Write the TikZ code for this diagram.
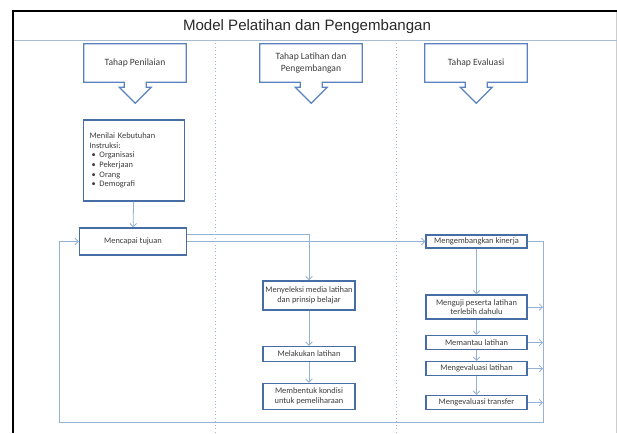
\documentclass[tikz,border=0pt]{standalone}
\usepackage{fontspec}
\setmainfont{Carlito}
\newfontfamily\titlefont{Liberation Sans}
\usetikzlibrary{arrows.meta}
\definecolor{boxblue}{RGB}{70,110,165}
\definecolor{callblue}{RGB}{90,130,190}
\definecolor{linkblue}{RGB}{150,178,210}
\definecolor{dotblue}{RGB}{160,185,210}
\definecolor{txtgray}{RGB}{60,60,60}

\begin{document}
\begin{tikzpicture}[x=0.75pt,y=0.75pt,yscale=-1,xscale=1,
    box/.style={draw=boxblue, line width=1pt, text=txtgray, inner sep=0.5pt, align=center, font=\fontsize{6.3}{7.2}\selectfont},
    tahap/.style={text=txtgray, minimum width=76.5pt, minimum height=28.5pt, inner sep=1pt, align=center, font=\fontsize{7.2}{8.4}\selectfont},
    callout/.style={draw=callblue, line width=0.9pt, line join=miter},
    conn/.style={draw=linkblue, line width=0.6pt, -{Straight Barb[length=2.5pt,width=5pt]}},
    colline/.style={dotblue, line width=0.6pt, dotted}]
        \useasboundingbox (0,0) rectangle (617,433);

        %Frame and title bar
        \draw [color={rgb, 255:red, 205; green, 205; blue, 205 }, line width=0.6pt] (616,11) -- (616,433) ;
        \draw [color={rgb, 255:red, 170; green, 188; blue, 208 }, line width=0.6pt] (13,40) -- (617,40) ;
        \draw [line width=1.1pt] (13,433) -- (13,11) -- (617,11) ;
        %Dotted column lines
        \draw [colline] (215,40) -- (215,433) ;
        \draw [colline] (396,40) -- (396,433) ;

        % Text Node
        \node [font=\titlefont\fontsize{11.3}{13}\selectfont, text={rgb, 255:red, 40; green, 40; blue, 40 }] (judul) at (307,27) {Model Pelatihan dan Pengembangan};

        %Callouts
        \node [tahap] (pen) at (135,63) {Tahap Penilaian};
        \node [tahap] (lat) at (311,63) {Tahap Latihan dan\\Pengembangan};
        \node [tahap] (eva) at (476,63) {Tahap Evaluasi};
        \foreach \n in {pen,lat,eva}
            \draw [callout] (\n.south west) -- (\n.north west) -- (\n.north east) -- (\n.south east) -- ++(-40,0) -- ++(0,5) -- ++(5,0) -- ++(-16,16) -- ++(-16,-16) -- ++(5,0) -- ++(0,-5) -- cycle ;

        %Column 1
        \node [box, align=left, text width=66.75pt, inner xsep=4.5pt, minimum height=60.75pt] (kebutuhan) at (134,160.5) {Menilai Kebutuhan\\Instruksi:\\
            \hspace*{1.5pt}\makebox[6pt][l]{\textbullet}Organisasi\\
            \hspace*{1.5pt}\makebox[6pt][l]{\textbullet}Pekerjaan\\
            \hspace*{1.5pt}\makebox[6pt][l]{\textbullet}Orang\\
            \hspace*{1.5pt}\makebox[6pt][l]{\textbullet}Demografi};
        \node [box, minimum width=80.25pt, minimum height=20.25pt] (tujuan) at (133,241.5) {Mencapai tujuan};

        %Column 2
        \node [box, minimum width=69pt, minimum height=21.75pt] (seleksi) at (309,295.5) {Menyeleksi media latihan\\dan prinsip belajar};
        \node [box, minimum width=69pt, minimum height=11.25pt] (latih) at (309,354) {Melakukan latihan};
        \node [box, minimum width=69pt, minimum height=19.5pt] (kondisi) at (309,396.5) {Membentuk kondisi\\untuk pemeliharaan};

        %Column 3
        \node [box, minimum width=75.75pt, minimum height=9.75pt] (kinerja) at (476.5,241.5) {Mengembangkan kinerja};
        \node [box, minimum width=75.75pt, minimum height=18pt] (uji) at (476.5,307) {Menguji peserta latihan\\terlebih dahulu};
        \node [box, minimum width=75.75pt, minimum height=10.5pt] (pantau) at (476.5,342.5) {Memantau latihan};
        \node [box, minimum width=75.75pt, minimum height=10.5pt] (evlatih) at (476.5,368.5) {Mengevaluasi latihan};
        \node [box, minimum width=75.75pt, minimum height=10.5pt] (evtrans) at (476.5,402.5) {Mengevaluasi transfer};

        %Feedback corners
        \coordinate (fbR) at (543,422);
        \coordinate (fbL) at (59,422);

        %Straight Lines
        \draw [conn] (kebutuhan) -- (tujuan) ;
        \draw [conn] (tujuan.east) -- (tujuan.east -| kinerja.west) ;
        \draw [conn] ([yshift=-5pt]tujuan.east) -| (seleksi.north) ;
        \draw [conn] (seleksi) -- (latih) ;
        \draw [conn] (latih) -- (kondisi) ;
        \draw [conn] (kinerja) -- (uji) ;
        \draw [conn] (uji) -- (pantau) ;
        \draw [conn] (pantau) -- (evlatih) ;
        \draw [conn] (evlatih) -- (evtrans) ;
        \foreach \n in {uji,pantau,evlatih,evtrans}
            \draw [conn] (\n.east) -- (\n.east -| fbR) ;
        %Feedback loop
        \draw [conn] (kinerja.east) -| (fbR) -- (fbL) |- (tujuan.west) ;
    \end{tikzpicture}
\end{document}
